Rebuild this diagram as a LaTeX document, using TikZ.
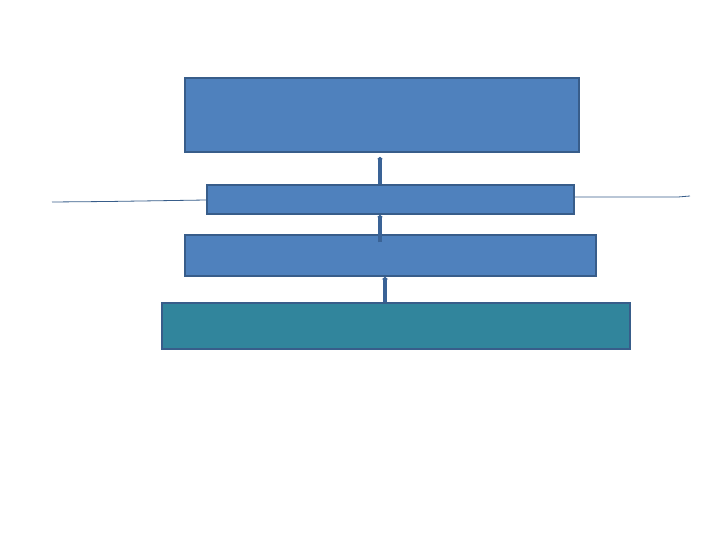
\documentclass[tikz,border=0pt]{standalone}
\usetikzlibrary{arrows.meta}
\definecolor{boxblue}{HTML}{4F81BD}
\definecolor{boxedge}{HTML}{385D8A}
\definecolor{boxteal}{HTML}{31859C}
\definecolor{arrowcol}{HTML}{3A6396}
\tikzset{
  bluebox/.style={draw=boxedge, line width=1.5pt, fill=boxblue, inner sep=0pt},
  tealbox/.style={draw=boxedge, line width=1.5pt, fill=boxteal, inner sep=0pt},
  uparrow/.style={draw=arrowcol, line width=3.2pt, -{Triangle[length=2.5pt,width=6pt]}},
  sideline/.style={draw=boxedge, line width=0.8pt}
}
\begin{document}
\begin{tikzpicture}[x=1pt,y=-1pt]
\useasboundingbox (0,0) rectangle (720,540);
\node[bluebox, minimum width=394pt, minimum height=74pt] (b1) at (382,115) {};
\node[bluebox, minimum width=367pt, minimum height=29pt] (b2) at (390.5,199.5) {};
\node[bluebox, minimum width=411pt, minimum height=41pt] (b3) at (390.5,255.5) {};
\node[tealbox, minimum width=468pt, minimum height=46pt] (b4) at (396,326) {};
\coordinate (l1) at (52,202);
\coordinate (l2) at (108,201.5);
\coordinate (r1) at (678,197);
\coordinate (r2) at (690,196);
\draw[uparrow] (b2.north -| 380,0) -- ([yshift=-4pt]b1.south -| 380,0);
\draw[uparrow] ([yshift=-8pt]b3.north -| 380,0) -- (b2.south -| 380,0);
\draw[uparrow] (b4.north -| 385,0) -- (b3.south -| 385,0);
\draw[sideline] (l1) -- (l2) -- (b2.west |- 0,200);
\draw[sideline] (b2.east |- 0,197) -- (r1) -- (r2);
\end{tikzpicture}
\end{document}
